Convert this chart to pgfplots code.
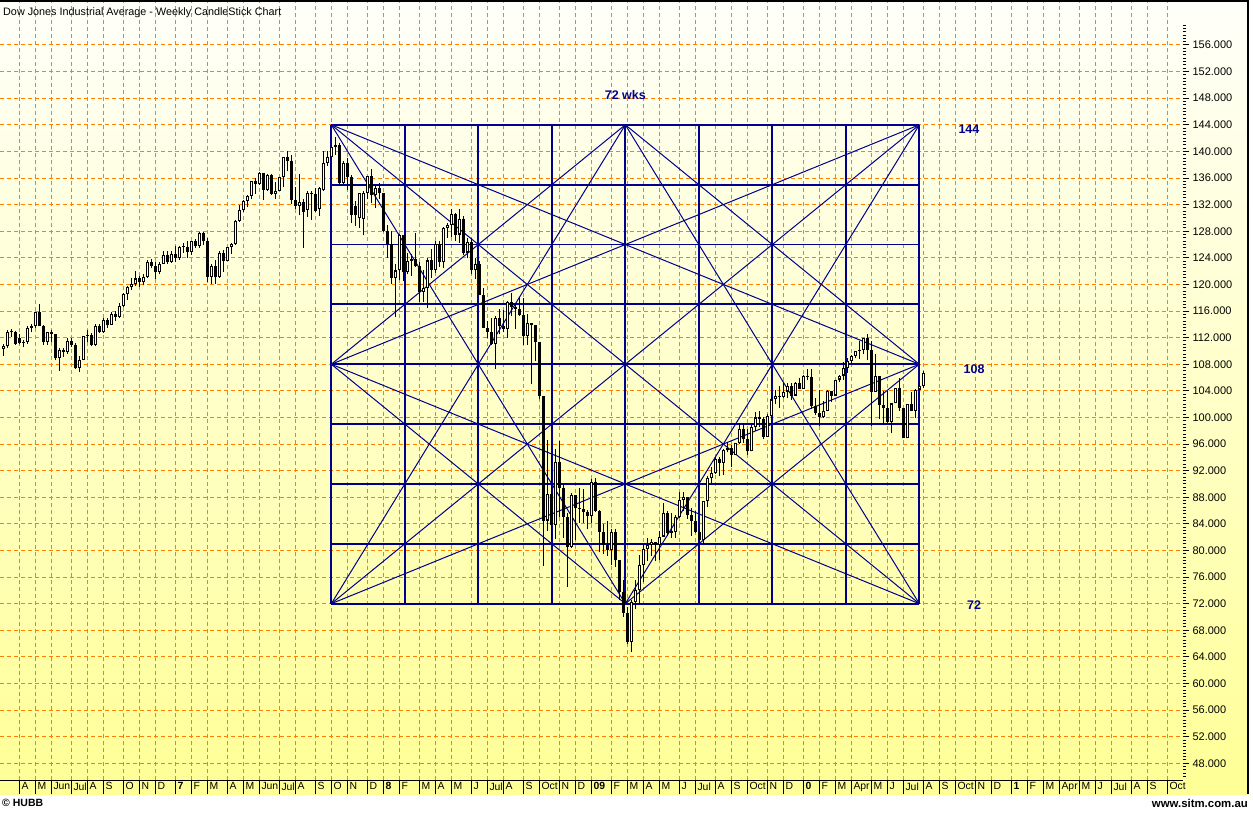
\documentclass[border=0pt]{standalone}
\usepackage{pgfplots}
\pgfplotsset{compat=1.18}
\usepackage{pgfplotstable}
\usepackage{fontspec}
\setmainfont{Liberation Sans}
\definecolor{gridor}{RGB}{255,128,0}
\definecolor{gann}{RGB}{0,0,140}
\definecolor{bgtop}{RGB}{255,255,250}
\definecolor{bgbot}{RGB}{255,255,150}

% weekly DJIA candles (hundreds); w = week index, 0 = week ending 7 Apr 2006
\pgfplotstableread{
w o h l c
-4 110.3 111.0 109.3 110.8
-3 110.8 113.1 110.5 112.8
-2 112.8 113.3 112.1 112.8
-1 112.8 113.0 110.9 111.1
0 111.9 112.6 111.0 111.2
1 111.2 111.6 110.6 111.4
2 111.4 113.7 111.0 113.5
3 113.5 114.0 112.8 113.7
4 113.7 115.9 113.5 115.8
5 115.8 117.1 113.8 113.8
6 113.8 113.9 110.9 111.4
7 111.4 112.9 110.9 112.8
8 112.8 113.2 111.3 112.5
9 112.5 112.6 108.7 108.9
10 108.9 110.4 107.0 110.1
11 110.1 110.4 109.1 109.9
12 109.9 112.0 109.6 111.5
13 111.5 112.0 110.6 110.9
14 110.9 111.2 107.3 107.4
15 107.4 109.2 106.8 108.7
16 108.7 112.3 108.6 112.2
17 112.2 113.2 111.3 112.4
18 112.4 112.7 110.7 110.9
19 110.9 114.0 110.8 113.8
20 113.8 114.0 112.7 112.8
21 112.8 114.9 112.7 114.6
22 114.6 115.0 113.5 113.9
23 113.9 115.9 113.9 115.6
24 115.6 116.0 114.5 115.1
25 115.1 117.2 115.0 116.8
26 116.8 118.7 116.6 118.5
27 118.5 119.8 117.7 119.6
28 119.6 121.0 119.2 120.0
29 120.0 122.0 119.8 120.9
30 120.9 121.3 119.6 120.3
31 120.3 121.6 119.9 121.1
32 121.1 123.6 121.0 123.4
33 123.4 123.8 122.4 122.8
34 122.8 123.4 120.8 121.9
35 121.9 123.4 121.5 123.1
36 123.1 125.1 123.0 124.5
37 124.5 125.0 123.1 123.4
38 123.4 125.1 123.2 124.6
39 124.6 125.8 123.3 124.0
40 124.0 125.8 123.7 125.6
41 125.6 126.2 124.8 125.7
42 125.7 126.5 124.0 124.9
43 124.9 126.6 124.5 126.5
44 126.5 126.8 125.5 125.8
45 125.8 127.9 125.5 127.7
46 127.7 127.9 126.0 126.5
47 126.5 127.0 120.3 121.1
48 121.1 123.0 120.0 122.8
49 122.8 123.6 120.0 121.1
50 121.1 125.0 121.0 124.8
51 124.8 125.2 121.9 123.5
52 123.5 125.7 123.5 125.6
53 125.6 126.2 124.6 126.1
54 126.1 129.7 126.0 129.6
55 129.6 132.0 129.4 131.2
56 131.2 132.7 130.9 132.6
57 132.6 133.5 131.6 133.3
58 133.3 135.6 132.9 135.6
59 135.6 136.0 133.6 135.1
60 135.1 136.9 134.9 136.7
61 136.7 136.8 132.7 134.2
62 134.2 136.6 134.0 136.4
63 136.4 136.6 133.5 133.6
64 133.6 135.4 132.9 134.1
65 134.1 136.2 134.0 136.1
66 136.1 139.2 134.7 139.1
67 139.1 140.0 137.0 138.5
68 138.5 139.4 132.1 132.7
69 132.7 134.7 131.3 131.8
70 131.8 136.6 130.4 132.4
71 132.4 132.8 125.5 130.9
72 131.2 134.1 130.2 133.8
73 133.8 134.0 129.7 133.6
74 133.6 134.5 130.9 131.1
75 131.3 134.6 130.3 134.5
76 134.2 140.0 134.0 138.3
77 138.3 140.0 137.8 139.1
78 139.1 140.9 138.7 140.7
79 140.7 142.2 139.5 141.0
80 141.0 141.3 135.0 135.3
81 135.3 138.6 135.1 138.3
82 138.3 139.0 134.2 136.1
83 136.1 136.4 129.2 130.4
84 131.8 132.6 128.8 130.4
85 130.0 133.7 128.5 133.7
86 129.8 134.0 127.4 133.7
87 133.7 136.3 132.8 136.3
88 136.3 137.3 132.2 133.4
89 133.4 134.9 131.5 134.5
90 134.5 135.3 132.9 133.7
91 133.7 133.7 127.9 128.0
92 128.0 129.0 124.0 126.1
93 126.1 128.0 120.0 121.0
94 121.0 123.0 115.1 122.1
95 122.1 127.6 120.6 127.4
96 127.4 127.5 120.5 121.8
97 121.8 124.8 121.5 123.5
98 123.5 124.6 121.3 123.8
99 123.8 127.7 122.6 122.7
100 122.7 123.3 117.4 118.9
101 118.9 122.2 117.3 119.5
102 119.5 124.0 116.5 123.6
103 123.6 125.3 121.0 122.2
104 122.2 126.5 121.7 126.1
105 126.1 126.6 122.6 123.3
106 123.3 128.6 122.4 128.5
107 128.5 129.3 127.0 128.9
108 128.9 131.4 127.2 130.6
109 130.6 130.7 126.6 127.5
110 127.5 131.4 126.3 129.9
111 129.9 130.3 124.4 124.8
112 124.8 127.0 123.9 126.4
113 126.4 127.0 121.6 122.1
114 122.1 124.0 120.8 123.1
115 123.1 123.5 118.4 118.4
116 118.4 119.5 113.4 113.5
117 113.5 114.5 111.9 112.9
118 112.9 115.0 110.9 111.0
119 111.0 115.3 107.3 115.0
120 115.0 116.3 112.5 113.7
121 113.7 116.1 112.8 113.3
122 113.3 117.5 112.0 117.3
123 117.3 118.7 115.3 116.6
124 116.6 117.2 113.3 116.3
125 116.3 118.1 115.2 115.4
126 115.4 118.0 110.9 112.2
127 112.2 115.5 110.9 114.2
128 114.2 114.2 105.0 113.9
129 113.9 113.9 108.5 111.4
130 111.4 111.4 102.7 103.3
131 103.3 103.3 77.7 84.5
132 84.5 96.6 83.0 88.5
133 88.5 94.0 81.6 83.8
134 83.8 95.3 81.7 93.3
135 93.3 96.5 85.0 89.4
136 89.4 90.0 81.9 85.0
137 85.0 85.6 74.5 80.5
138 80.5 88.7 80.4 88.3
139 88.3 88.3 81.5 86.4
140 86.4 89.4 84.2 86.3
141 86.3 89.2 84.2 85.8
142 85.8 86.1 83.3 85.2
143 85.2 90.7 84.2 90.3
144 90.3 90.9 85.8 86.0
145 86.0 86.1 79.7 82.8
146 82.8 84.0 79.4 80.8
147 80.8 84.5 79.2 80.0
148 80.0 83.2 77.8 82.8
149 82.8 83.2 77.5 78.5
150 78.5 78.5 72.5 73.7
151 73.7 75.6 70.0 70.6
152 70.6 71.5 65.9 66.3
153 66.3 72.5 64.7 72.2
154 72.2 75.6 71.2 74.0
155 74.0 79.3 72.0 77.8
156 77.8 80.8 75.3 80.2
157 80.2 81.9 78.4 80.8
158 80.8 81.8 79.2 81.3
159 81.3 81.3 78.4 80.8
160 80.8 82.9 78.6 82.1
161 82.1 87.1 82.0 85.7
162 85.7 85.9 82.2 82.7
163 82.7 85.7 81.9 82.8
164 82.8 85.4 81.9 85.0
165 85.0 88.8 84.9 87.6
166 87.6 88.8 85.9 88.0
167 88.0 88.0 84.7 85.4
168 85.4 86.4 82.2 84.4
169 84.4 86.0 82.7 82.8
170 82.8 83.3 80.9 81.5
171 81.5 87.5 80.9 87.4
172 87.4 91.2 86.5 90.9
173 90.9 92.5 90.1 91.7
174 91.7 94.0 91.5 93.7
175 93.7 94.0 91.2 93.2
176 93.2 95.2 91.4 95.1
177 95.1 96.3 94.8 95.4
178 95.4 95.8 92.5 94.4
179 94.4 96.2 94.3 96.1
180 96.1 99.2 96.0 98.2
181 98.2 99.2 96.2 96.7
182 96.7 98.2 94.3 94.9
183 94.9 98.9 94.9 98.6
184 98.6 100.8 98.0 100.0
185 100.0 100.9 98.5 99.7
186 99.7 100.1 96.8 97.1
187 97.1 100.5 97.1 100.2
188 100.2 103.1 100.2 102.7
189 102.7 104.1 102.0 103.2
190 103.2 104.8 101.4 103.1
191 103.1 105.2 102.9 103.9
192 103.9 105.2 103.0 104.7
193 104.7 105.2 102.6 103.3
194 103.3 105.3 103.2 105.2
195 105.2 105.9 104.3 104.3
196 104.3 106.4 104.3 106.2
197 106.2 107.3 105.6 106.1
198 106.1 107.3 101.3 101.7
199 101.7 103.0 100.3 100.7
200 100.7 104.1 98.7 100.1
201 100.1 102.4 99.9 101.0
202 101.0 104.2 101.0 104.0
203 104.0 104.0 102.3 103.3
204 103.3 105.7 103.2 105.7
205 105.7 106.4 105.3 106.3
206 106.3 108.4 105.6 107.4
207 107.4 108.9 106.7 108.5
208 108.5 109.4 108.2 109.3
209 109.3 110.0 108.9 110.0
210 110.0 111.5 108.8 110.2
211 110.2 112.0 109.5 112.0
212 112.0 112.6 108.7 110.1
213 110.1 111.5 98.7 103.8
214 103.8 109.5 103.8 106.2
215 106.2 106.3 99.8 101.9
216 101.9 104.0 98.9 101.4
217 101.4 104.0 99.2 99.3
218 99.3 102.2 97.6 102.1
219 102.1 104.5 102.1 104.5
220 104.5 105.9 101.0 101.4
221 101.4 101.4 96.9 96.9
222 96.9 102.0 96.9 102.0
223 102.0 103.8 100.9 101.0
224 101.0 104.3 99.9 104.2
225 104.2 105.5 103.3 104.7
226 104.7 107.0 104.4 106.7
}\candles

\begin{document}
\begin{tikzpicture}[x=1pt,y=1pt]
\fill[white] (0,0) rectangle (1253,812);
\shade[top color=bgtop, bottom color=bgbot] (0,18) rectangle (1249,812);
\pgfplotsset{
  chartbase/.style={at={(0pt,32pt)}, anchor=south west, scale only axis,
    width=1183pt, height=778pt, xmin=-4.825, xmax=290.925, ymin=45.49, ymax=162.465},
}
\begin{axis}[chartbase,
  axis x line*=bottom, axis y line*=right,
  x axis line style={black, line width=1pt},
  y axis line style={draw=none},
  xtick={0,4,8,13,17,21,26,30,34,39,43,47,52,56,60,65,69,74,78,82,87,91,95,100,104,108,113,117,121,126,130,135,139,143,148,152,156,160,165,169,174,178,182,187,191,196,200,204,208,213,217,221,226,230,234,239,243,248,252,256,260,265,269,273,278,282,287},
  xticklabels={A,M,Jun,Jul,A,S,O,N,D,\textbf{7},F,M,A,M,Jun,Jul,A,S,O,N,D,\textbf{8},F,M,A,M,J,Jul,A,S,Oct,N,D,\textbf{09},F,M,A,M,J,Jul,A,S,Oct,N,D,\textbf{0},F,M,Apr,M,J,Jul,A,S,Oct,N,D,\textbf{1},F,M,Apr,M,J,Jul,A,S,Oct},
  tick align=outside, major tick length=14pt,
  xtick style={black, line width=1pt},
  xticklabel style={anchor=north west, inner sep=0pt, xshift=2pt, yshift=11.5pt, font=\fontsize{10.4}{11}\selectfont},
  ytick={48,52,...,156}, ytick style={draw=none}, yticklabels={},
  xmajorgrids, ymajorgrids,
  major grid style={gridor, line width=1pt, dash pattern=on 4pt off 3pt},
]
% Gann box grid
\pgfplotsinvokeforeach{72,81,...,144}{\addplot[gann, line width=1.8pt, forget plot] coordinates {(78,#1) (225,#1)};}
\pgfplotsinvokeforeach{78,96.375,114.75,133.125,151.5,169.875,188.25,206.625,225}{\addplot[gann, line width=1.8pt, forget plot] coordinates {(#1,72) (#1,144)};}
% Gann fan lines
\addplot[gann, line width=1pt, forget plot] coordinates {(78,144) (225,72)};
\addplot[gann, line width=1pt, forget plot] coordinates {(78,72) (225,144)};
\addplot[gann, line width=1pt, forget plot] coordinates {(78,144) (225,108)};
\addplot[gann, line width=1pt, forget plot] coordinates {(78,144) (151.5,72)};
\addplot[gann, line width=1pt, forget plot] coordinates {(225,144) (78,108)};
\addplot[gann, line width=1pt, forget plot] coordinates {(225,144) (151.5,72)};
\addplot[gann, line width=1pt, forget plot] coordinates {(78,72) (225,108)};
\addplot[gann, line width=1pt, forget plot] coordinates {(78,72) (151.5,144)};
\addplot[gann, line width=1pt, forget plot] coordinates {(225,72) (78,108)};
\addplot[gann, line width=1pt, forget plot] coordinates {(225,72) (151.5,144)};
\addplot[gann, line width=1pt, forget plot] coordinates {(78,108) (151.5,144) (225,108) (151.5,72) (78,108)};
% candles: wicks, bodies, hollow interiors
\addplot[forget plot, draw=none, mark=none,
  error bars/.cd, y dir=plus, y explicit, error mark=none,
  error bar style={draw=black, line width=1pt}]
  table[x=w, y=l, y error expr={\thisrow{h}-\thisrow{l}}] {\candles};
\addplot[forget plot, draw=none, mark=none,
  error bars/.cd, y dir=plus, y explicit, error mark=none,
  error bar style={draw=black, line width=3pt}]
  table[x=w, y expr={min(\thisrow{o},\thisrow{c})}, y error expr={max(abs(\thisrow{c}-\thisrow{o}),0.16)}] {\candles};
\addplot[forget plot, draw=none, mark=none,
  error bars/.cd, y dir=plus, y explicit, error mark=none,
  error bar style={draw=white, line width=1pt}]
  table[x=w, y expr={\thisrow{o}+0.16}, y error expr={(\thisrow{c}-\thisrow{o}>0.34)*(\thisrow{c}-\thisrow{o}-0.32)}] {\candles};
\node[gann, font=\bfseries\fontsize{12.5}{13}\selectfont] at (axis cs:151.5,148.5) {72 wks};
\node[gann, font=\bfseries\fontsize{12.5}{13}\selectfont] at (axis cs:237.4,143.4) {144};
\node[gann, font=\bfseries\fontsize{12.5}{13}\selectfont] at (axis cs:238.7,107.3) {108};
\node[gann, font=\bfseries\fontsize{12.5}{13}\selectfont] at (axis cs:238.7,71.8) {72};
\end{axis}
\begin{axis}[chartbase,
  axis x line=none, xtick=\empty, axis y line*=right,
  y axis line style={draw=none},
  ytick={48,52,...,156},
  minor ytick={46,46.5,...,159},
  tick align=outside, major tick length=6pt, minor tick length=3pt,
  every tick/.style={black, line width=1pt},
  yticklabel style={anchor=west, font=\fontsize{11}{12}\selectfont},
  /pgf/number format/.cd, fixed, fixed zerofill, precision=3, assume math mode=true,
]
\addplot[draw=none, forget plot] coordinates {(0,100)};
\end{axis}
\fill[black] (0,810) rectangle (1249,812);
\fill[black] (1247,18) rectangle (1249,812);
\node[anchor=west, inner sep=0pt, font=\fontsize{10.8}{11}\selectfont] at (3,799) {Dow Jones Industrial Average - Weekly CandleStick Chart};
\node[anchor=west, inner sep=0pt, font=\bfseries\fontsize{10.5}{11}\selectfont] at (2,9) {© HUBB};
\node[anchor=east, inner sep=0pt, font=\bfseries\fontsize{11.4}{12}\selectfont] at (1248,9) {www.sitm.com.au};
\pgfresetboundingbox
\path[use as bounding box] (0,0) rectangle (1253,812);
\end{tikzpicture}
\end{document}
